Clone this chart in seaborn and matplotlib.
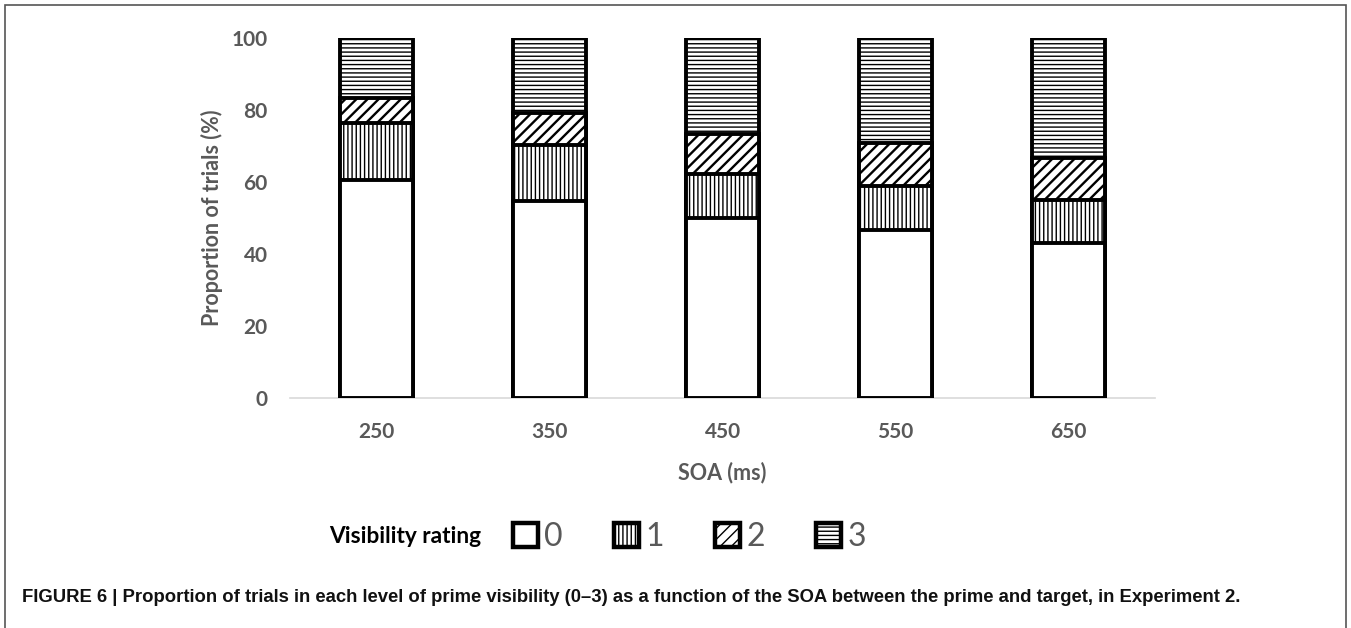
import matplotlib
matplotlib.use("Agg")
import matplotlib.pyplot as plt
from matplotlib.patches import Patch, Rectangle
import seaborn as sns
import pandas as pd
import numpy as np

# values (percent of trials)
soa = ["250", "350", "450", "550", "650"]
rating_0 = [60.7, 54.8, 50.1, 46.8, 43.2]
rating_1 = [15.8, 15.6, 12.2, 12.2, 11.9]
rating_2 = [6.9, 8.8, 11.1, 11.9, 11.7]
rating_3 = [16.6, 20.8, 26.6, 29.1, 33.2]
ratings = ["0", "1", "2", "3"]
hatches = ["", "||||", "///", "----"]
hatch_lw = [1.0, 1.0, 1.7, 1.0]

sns.set_theme(style="white")
plt.rcParams["font.family"] = ["Lato", "DejaVu Sans"]

layers = [rating_0, rating_1, rating_2, rating_3]
cum = np.cumsum(np.array(layers), axis=0)

fig = plt.figure(figsize=(13.51, 6.28), dpi=100)
ax = fig.add_axes([0.2147, 0.366, 0.6403, 0.5735])

gray = "#595959"
# draw cumulative layers from the top one down so each sits on the next
for i in reversed(range(4)):
    plt.rcParams["hatch.linewidth"] = hatch_lw[i]
    df = pd.DataFrame({"SOA": soa, "value": cum[i]})
    sns.barplot(data=df, x="SOA", y="value", ax=ax, color="white",
                edgecolor="black", linewidth=2.8, width=0.42,
                hatch=hatches[i], saturation=1)

ax.set_ylim(0, 100)
ax.set_xlim(-0.5, 4.5)
ax.set_yticks([0, 20, 40, 60, 80, 100])
ax.set_yticklabels(["0", "20", "40", "60", "80", "100"], fontsize=15,
                   fontweight="bold", color=gray)
ax.set_xticks(range(5))
ax.set_xticklabels(soa, fontsize=15, fontweight="bold", color=gray)
ax.set_xticks(np.arange(-0.5, 5, 1), minor=True)
ax.tick_params(axis="x", which="major", length=0, pad=17)
ax.tick_params(axis="x", which="minor", length=6, color="#d9d9d9", width=1)
ax.tick_params(axis="y", length=0, pad=16)

ax.set_xlabel("SOA (ms)", fontsize=15.5, fontweight="bold", color=gray, labelpad=14)
ax.set_ylabel("Proportion of trials (%)", fontsize=15.5, fontweight="bold",
              color=gray, labelpad=6)

for s in ["top", "right", "left"]:
    ax.spines[s].set_visible(False)
ax.spines["bottom"].set_color("#d9d9d9")
ax.spines["bottom"].set_linewidth(1.2)
ax.spines["bottom"].set_zorder(0)

# legend
fig.text(0.356, 0.145, "Visibility rating", fontsize=16.3, fontweight="bold",
         color="black", ha="right", va="center")
plt.rcParams["hatch.linewidth"] = 1.0
handles = [Patch(facecolor="white", edgecolor="black", hatch=h, linewidth=3.2)
           for h in hatches]
leg = fig.legend(handles, ratings, loc="center left", bbox_to_anchor=(0.3797, 0.145),
                 ncol=4, frameon=False, fontsize=23, handlelength=0.78,
                 handleheight=0.78, handletextpad=0.2, columnspacing=1.6,
                 borderpad=0, borderaxespad=0)
for t in leg.get_texts():
    t.set_color(gray)

# caption
fig.text(0.016, 0.049,
         "FIGURE 6 | Proportion of trials in each level of prime visibility (0\u20133) "
         "as a function of the SOA between the prime and target, in Experiment 2.",
         fontsize=13.3, fontweight="bold", family="Liberation Sans",
         ha="left", va="center", color="#111111")

# outer frame
fig.patches.append(Rectangle((0.004, -0.05), 0.992, 1.042, transform=fig.transFigure,
                             fill=False, edgecolor="#555555", linewidth=1.2))

fig.savefig("out.png", dpi=100)
